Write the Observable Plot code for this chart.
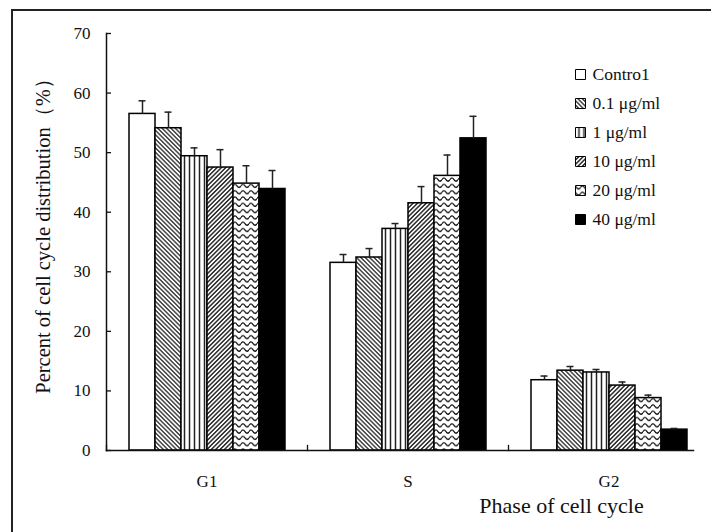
<!DOCTYPE html>
<html>
<head>
<meta charset="utf-8">
<script src="https://cdn.jsdelivr.net/npm/d3@7"></script>
<script src="https://cdn.jsdelivr.net/npm/@observablehq/plot@0.6"></script>
<style>
  html, body { margin: 0; padding: 0; background: #fff; overflow: hidden; width: 711px; height: 532px; }
  #wrap { position: relative; width: 711px; height: 532px; overflow: hidden; font-family: "Liberation Serif", serif; }
  #wrap svg, #wrap svg text { font-family: "Liberation Serif", "Times New Roman", serif !important; }
  #border { position: absolute; left: 11px; top: 9px; width: 760px; height: 600px; border: 2.5px solid #222; box-sizing: border-box; }
  #chart { position: absolute; left: 0; top: 0; }
  #legend { position: absolute; left: 568px; top: 58px; }
</style>
</head>
<body>
<svg width="0" height="0" style="position:absolute">
  <defs>
    <pattern id="pDiagDown" width="3.1" height="3.1" patternUnits="userSpaceOnUse" patternTransform="rotate(-45)">
      <rect width="3.1" height="3.1" fill="#fff"/>
      <line x1="1.55" y1="0" x2="1.55" y2="3.1" stroke="#000" stroke-width="1.1"/>
    </pattern>
    <pattern id="pVert" width="5" height="5" patternUnits="userSpaceOnUse" x="1">
      <rect width="5" height="5" fill="#fff"/>
      <line x1="2.5" y1="0" x2="2.5" y2="5" stroke="#222" stroke-width="1.5"/>
    </pattern>
    <pattern id="pDiagUp" width="3.1" height="3.1" patternUnits="userSpaceOnUse" patternTransform="rotate(45)">
      <rect width="3.1" height="3.1" fill="#fff"/>
      <line x1="1.55" y1="0" x2="1.55" y2="3.1" stroke="#000" stroke-width="1.25"/>
    </pattern>
    <pattern id="pWave" width="8" height="6.3" patternUnits="userSpaceOnUse">
      <rect width="8" height="6.3" fill="#fff"/>
      <path d="M0 3.2 Q2 0.2 4 3.2 T8 3.2" fill="none" stroke="#000" stroke-width="1.2"/>
    </pattern>
  </defs>
</svg>
<div id="wrap">
  <div id="border"></div>
  <div id="chart"></div>
  <div id="legend"></div>
</div>
<script>
// ---- data ----
const phases = ["G1", "S", "G2"];
const treatments = ["Contro1", "0.1 μg/ml", "1 μg/ml", "10 μg/ml", "20 μg/ml", "40 μg/ml"];
const meanG1 = [56.5, 54.1, 49.4, 47.5, 44.8, 43.9];
const meanS  = [31.5, 32.4, 37.2, 41.5, 46.1, 52.4];
const meanG2 = [11.8, 13.4, 13.1, 10.9, 8.8, 3.5];
const sdG1 = [2.2, 2.7, 1.4, 3.0, 3.0, 3.1];
const sdS  = [1.4, 1.5, 0.9, 2.8, 3.5, 3.7];
const sdG2 = [0.7, 0.7, 0.5, 0.6, 0.5, 0.2];
const yTicks = [0, 10, 20, 30, 40, 50, 60, 70];
const yLabel = "Percent of cell cycle distribution（%）";
const xLabel = "Phase of cell cycle";

// ---- styling ----
const fills = ["#fff", "url(#pDiagDown)", "url(#pVert)", "url(#pDiagUp)", "url(#pWave)", "#000"];
const font = "Liberation Serif";

const means = {G1: meanG1, S: meanS, G2: meanG2};
const sds = {G1: sdG1, S: sdS, G2: sdG2};
const data = phases.flatMap(p => treatments.map((t, i) => ({phase: p, treatment: t, value: means[p][i], sd: sds[p][i]})));

const colorScale = {type: "ordinal", domain: treatments, range: fills};

const chart = Plot.plot({
  width: 711,
  height: 532,
  marginTop: 33,
  marginBottom: 82,
  marginLeft: 105,
  marginRight: 2,
  style: {fontFamily: font, fontSize: "16.5px", color: "#111", background: "transparent", overflow: "visible"},
  fx: {domain: phases, padding: 0, label: null},
  x: {domain: treatments, paddingInner: 0, paddingOuter: 0.728, axis: null},
  y: {domain: [0, 70], label: null},
  color: colorScale,
  marks: [
    Plot.barY(data, {fx: "phase", x: "treatment", y: "value", fill: "treatment", stroke: "#000", strokeWidth: 1.5}),
    Plot.ruleX(data, {fx: "phase", x: "treatment", y1: "value", y2: d => d.value + d.sd, stroke: "#222", strokeWidth: 1.5}),
    Plot.tickY(data, {fx: "phase", x: "treatment", y: d => d.value + d.sd, stroke: "#222", strokeWidth: 1.5, insetLeft: 9.5, insetRight: 9.5}),
    Plot.axisY({ticks: yTicks, tickSize: -5, tickPadding: 21, label: null, fontSize: 17, fontFamily: font, strokeWidth: 1.3}),
    Plot.axisFx({anchor: "bottom", tickSize: 0, tickPadding: 24, label: null, fontSize: 17, fontFamily: font}),
    Plot.frame({anchor: "left", insetTop: 412, strokeWidth: 1.3}),
    Plot.frame({anchor: "left", facet: "super", strokeWidth: 1.5}),
    Plot.frame({anchor: "bottom", facet: "super", insetRight: 16, strokeWidth: 1.5}),
    Plot.text([yLabel], {facet: "super", frameAnchor: "left", text: d => d, rotate: -90, dx: -63, dy: -11, textAnchor: "middle", lineAnchor: "middle", fontSize: 20.5, fontFamily: font}),
    Plot.text([xLabel], {facet: "super", frameAnchor: "bottom", text: d => d, dx: 153.5, dy: 55, textAnchor: "middle", lineAnchor: "middle", fontSize: 22, fontFamily: font})
  ]
});
document.getElementById("chart").appendChild(chart);

const legend = Plot.plot({
  width: 135,
  height: 177,
  margin: 0,
  style: {fontFamily: font, fontSize: "17.5px", color: "#111", background: "transparent", overflow: "visible"},
  x: {domain: [0, 1], range: [12, 135], axis: null},
  y: {type: "band", domain: treatments, range: [0, 177], axis: null},
  color: colorScale,
  marks: [
    Plot.dot(treatments, {x: () => 0, y: d => d, symbol: "square", r: 5.64, fill: d => d, stroke: "#000", strokeWidth: 1}),
    Plot.text(treatments, {x: () => 0, y: d => d, text: d => d, dx: 12, textAnchor: "start", fontSize: 17.5, fontFamily: font})
  ]
});
document.getElementById("legend").appendChild(legend);
</script>
</body>
</html>
